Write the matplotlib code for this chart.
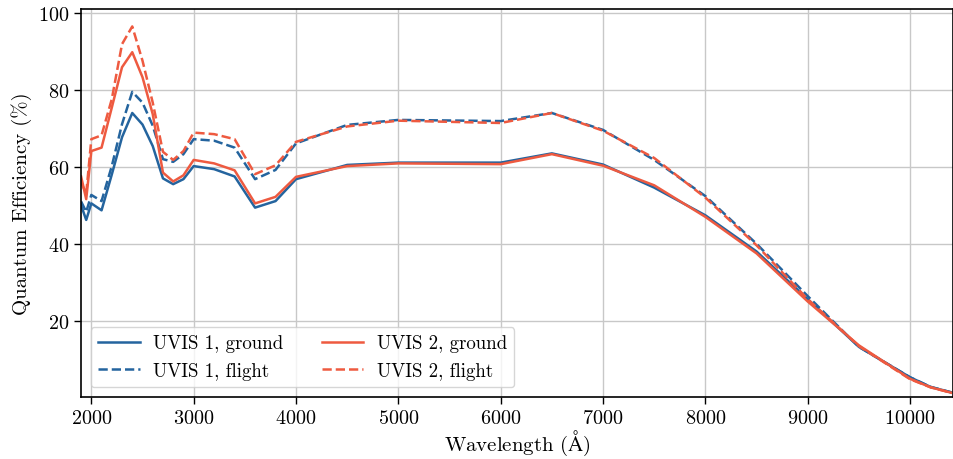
import numpy as np
import matplotlib
matplotlib.use("Agg")
import matplotlib.pyplot as plt

plt.rcParams['font.family'] = 'serif'
plt.rcParams['font.serif'] = ['cmr10', 'DejaVu Serif']
plt.rcParams['mathtext.fontset'] = 'cm'
plt.rcParams['axes.formatter.use_mathtext'] = True

# wavelength grid (Angstrom)
wave = [1900, 1950, 2000, 2100, 2200, 2300, 2400, 2500, 2600, 2700, 2800, 2900,
        3000, 3200, 3400, 3600, 3800, 4000, 4500, 5000, 6000, 6500, 7000, 7500,
        8000, 8500, 9000, 9500, 10000, 10200, 10400]

uvis1_ground = [50.0, 46.2, 50.5, 48.7, 58.0, 67.7, 74.0, 71.0, 65.4, 57.0, 55.5, 56.8,
                60.2, 59.4, 57.5, 49.4, 51.1, 56.8, 60.5, 61.1, 61.1, 63.5, 60.6, 54.6,
                47.4, 38.0, 25.6, 13.2, 5.3, 2.8, 1.4]
uvis1_flight = [51.0, 48.3, 52.7, 51.1, 60.2, 71.1, 79.5, 76.7, 70.7, 62.0, 61.3, 63.3,
                67.2, 66.8, 65.0, 56.8, 59.2, 66.1, 70.9, 72.2, 71.9, 74.0, 69.6, 61.8,
                52.4, 40.0, 26.4, 13.2, 5.3, 2.8, 1.4]
uvis2_ground = [57.5, 51.6, 64.1, 65.0, 75.4, 85.9, 89.8, 83.3, 73.7, 58.5, 56.2, 57.8,
                61.8, 60.9, 59.1, 50.5, 52.2, 57.4, 60.2, 60.9, 60.7, 63.3, 60.3, 55.2,
                47.0, 37.5, 25.0, 13.6, 4.9, 2.7, 1.3]
uvis2_flight = [56.0, 53.0, 67.2, 68.2, 77.6, 91.9, 96.5, 87.6, 76.7, 63.9, 61.8, 64.1,
                68.9, 68.5, 67.2, 58.1, 60.4, 66.5, 70.5, 72.0, 71.4, 74.0, 69.4, 62.3,
                52.0, 39.6, 25.6, 13.4, 4.8, 2.7, 1.3]

blue = '#24649e'
red = '#ee5a40'

fig = plt.figure(figsize=(9.54, 4.6), dpi=100)
ax = fig.add_axes([0.085, 0.135, 0.914, 0.843])

ax.plot(wave, uvis1_ground, color=blue, lw=1.8, label='UVIS 1, ground')
ax.plot(wave, uvis1_flight, color=blue, lw=1.8, ls='--', label='UVIS 1, flight')
ax.plot(wave, uvis2_ground, color=red, lw=1.8, label='UVIS 2, ground')
ax.plot(wave, uvis2_flight, color=red, lw=1.8, ls='--', label='UVIS 2, flight')

ax.set_xlim(1900, 10420)
ax.set_ylim(0.2, 101)
ax.set_xticks(np.arange(2000, 10001, 1000))
ax.set_yticks([20, 40, 60, 80, 100])
ax.grid(True, color='#c8c8c8', lw=1.0)
ax.set_axisbelow(True)
ax.tick_params(labelsize=14.5, direction='out', length=5, width=1)
for s in ax.spines.values():
    s.set_linewidth(1.2)

ax.set_xlabel(r'Wavelength ($\mathrm{\AA}$)', fontsize=15, labelpad=1)
ax.set_ylabel('Quantum Efficiency (%)', fontsize=15)

ax.legend(loc='lower left', ncol=2, fontsize=13.6, framealpha=0.8,
          columnspacing=2.05, handlelength=2.2, handletextpad=0.7)

fig.savefig('out.png', dpi=100)
